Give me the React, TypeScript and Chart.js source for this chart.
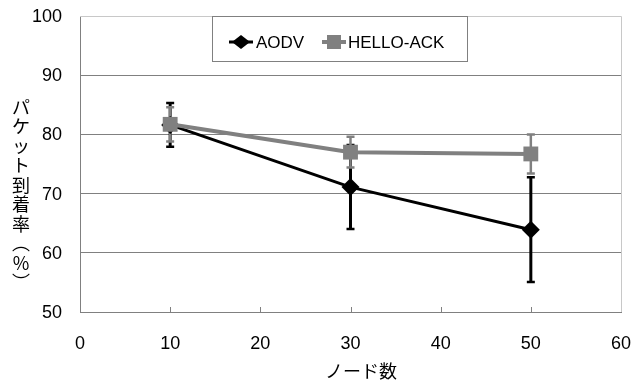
import React, { useEffect, useRef } from "react";
import { Chart, registerables } from "chart.js";

Chart.register(...registerables);

const nodeCounts = [10, 30, 50];
const aodvValues = [81.6, 71.1, 63.9];
const aodvErrors = [3.7, 7.1, 8.85];
const helloValues = [81.7, 77.0, 76.7];
const helloErrors = [2.9, 2.6, 3.3];
const seriesNames = ["AODV", "HELLO-ACK"];
const xTitle = "ノード数";
const yTitleChars = ["パ", "ケ", "ッ", "ト", "到", "着", "率", "︵", "%", "︶"];

const FONT = "'Liberation Sans', 'Noto Sans CJK JP', sans-serif";
const JFONT = "'Noto Sans CJK JP', sans-serif";
const GRAY = "#808080";

const errorBars = [aodvErrors, helloErrors];

const customPlugin = {
  id: "custom",
  beforeDatasetsDraw(chart: any) {
    const ctx = chart.ctx;
    const xs = chart.scales.x;
    const ys = chart.scales.y;
    const area = chart.chartArea;
    ctx.save();
    // top & right border
    ctx.strokeStyle = "#c8c8c8";
    ctx.lineWidth = 1;
    ctx.beginPath();
    ctx.moveTo(area.left, Math.round(area.top) + 0.5);
    ctx.lineTo(Math.round(area.right) + 0.5, Math.round(area.top) + 0.5);
    ctx.lineTo(Math.round(area.right) + 0.5, area.bottom);
    ctx.stroke();
    // inward x ticks
    ctx.strokeStyle = GRAY;
    xs.ticks.forEach((t: any) => {
      if (t.value <= 0 || t.value >= 60) return;
      const px = Math.round(xs.getPixelForValue(t.value)) + 0.5;
      ctx.beginPath();
      ctx.moveTo(px, area.bottom);
      ctx.lineTo(px, area.bottom - 5);
      ctx.stroke();
    });
    // tick labels
    ctx.fillStyle = "#000";
    ctx.font = `18px ${FONT}`;
    ctx.textBaseline = "middle";
    ctx.textAlign = "center";
    xs.ticks.forEach((t: any) => {
      ctx.fillText(String(t.value), xs.getPixelForValue(t.value), area.bottom + 32);
    });
    ctx.textAlign = "right";
    ys.ticks.forEach((t: any) => {
      ctx.fillText(String(t.value), area.left - 18, ys.getPixelForValue(t.value) + 1);
    });
    // error bars
    chart.data.datasets.forEach((ds: any, i: number) => {
      const errs = errorBars[i];
      ctx.strokeStyle = ds.borderColor;
      ds.data.forEach((p: any, j: number) => {
        const v = p.y;
        const px = xs.getPixelForValue(p.x);
        const top = ys.getPixelForValue(v + errs[j]);
        const bot = ys.getPixelForValue(v - errs[j]);
        ctx.lineWidth = i === 0 ? 3 : 2.5;
        ctx.beginPath();
        ctx.moveTo(px, top);
        ctx.lineTo(px, bot);
        ctx.stroke();
        ctx.lineWidth = 2.5;
        ctx.beginPath();
        ctx.moveTo(px - 4, top);
        ctx.lineTo(px + 4, top);
        ctx.moveTo(px - 4, bot);
        ctx.lineTo(px + 4, bot);
        ctx.stroke();
      });
    });
    ctx.restore();
  },
  afterDraw(chart: any) {
    const ctx = chart.ctx;
    ctx.save();
    // legend box
    const lx = 212.5, ly = 16.5, lw = 255, lh = 45;
    ctx.fillStyle = "#fff";
    ctx.fillRect(lx, ly, lw, lh);
    ctx.strokeStyle = GRAY;
    ctx.lineWidth = 1;
    ctx.strokeRect(lx, ly, lw, lh);
    const items = [
      { mx: 241, tx: 256, ds: chart.data.datasets[0] },
      { mx: 334, tx: 348, ds: chart.data.datasets[1] },
    ];
    items.forEach((it, i) => {
      const cy = 42;
      ctx.strokeStyle = it.ds.borderColor;
      ctx.lineWidth = it.ds.borderWidth;
      ctx.beginPath();
      ctx.moveTo(it.mx - 12, cy);
      ctx.lineTo(it.mx + 12, cy);
      ctx.stroke();
      ctx.fillStyle = it.ds.borderColor;
      ctx.beginPath();
      if (i === 0) {
        ctx.moveTo(it.mx - 9, cy);
        ctx.lineTo(it.mx, cy - 7);
        ctx.lineTo(it.mx + 9, cy);
        ctx.lineTo(it.mx, cy + 7);
        ctx.closePath();
      } else {
        ctx.rect(it.mx - 7, cy - 7, 14, 14);
      }
      ctx.fill();
      ctx.fillStyle = "#000";
      ctx.font = `17px ${FONT}`;
      ctx.textAlign = "left";
      ctx.textBaseline = "middle";
      ctx.fillText(seriesNames[i], it.tx, cy + 1);
    });
    // y title vertical
    ctx.fillStyle = "#000";
    ctx.font = `18px ${JFONT}`;
    ctx.textAlign = "center";
    ctx.textBaseline = "middle";
    yTitleChars.forEach((c, i) => {
      ctx.fillText(c, 21, 107 + i * 19.5);
    });
    // x title
    ctx.font = `18px ${JFONT}`;
    ctx.fillText(xTitle, 361, 371);
    ctx.restore();
  },
};

export default function App() {
  const ref = useRef<HTMLCanvasElement | null>(null);
  useEffect(() => {
    if (!ref.current) return;
    const chart = new Chart(ref.current, {
      type: "line",
      data: {
        datasets: [
          {
            label: seriesNames[0],
            data: aodvValues.map((v, i) => ({ x: nodeCounts[i], y: v })) as any,
            borderColor: "#000000",
            backgroundColor: "#000000",
            borderWidth: 3,
            pointStyle: "rectRot",
            pointRadius: 9,
            pointHoverRadius: 9,
            pointBorderWidth: 0,
          },
          {
            label: seriesNames[1],
            data: helloValues.map((v, i) => ({ x: nodeCounts[i], y: v })) as any,
            borderColor: GRAY,
            backgroundColor: GRAY,
            borderWidth: 4,
            pointStyle: "rect",
            pointRadius: 10.5,
            pointHoverRadius: 10.5,
            pointBorderWidth: 0,
          },
        ].map((d, i) => ({ ...d, order: 1 - i })),
      },
      options: {
        responsive: false,
        animation: false,
        layout: { padding: { left: 0, top: 16, right: 13, bottom: 0 } },
        plugins: { legend: { display: false }, tooltip: { enabled: false } },
        scales: {
          x: {
            type: "linear",
            min: 0,
            max: 60,
            ticks: { stepSize: 10, display: false },
            grid: { display: false, drawTicks: false },
            border: { color: GRAY, width: 1 },
            afterFit: (s: any) => { s.height = 69; },
          },
          y: {
            min: 50,
            max: 100,
            ticks: { stepSize: 10, display: false },
            grid: {
              drawTicks: false,
              color: (c: any) => (c.tick && (c.tick.value === 100 || c.tick.value === 50) ? "rgba(0,0,0,0)" : GRAY),
            },
            border: { color: GRAY, width: 1 },
            afterFit: (s: any) => { s.width = 80; },
          },
        },
      },
      plugins: [customPlugin],
    });
    return () => chart.destroy();
  }, []);
  return (
    <div style={{ position: "absolute", left: 0, top: 0, width: 634, height: 381, background: "#fff" }}>
      <canvas ref={ref} width={634} height={381} />
    </div>
  );
}
